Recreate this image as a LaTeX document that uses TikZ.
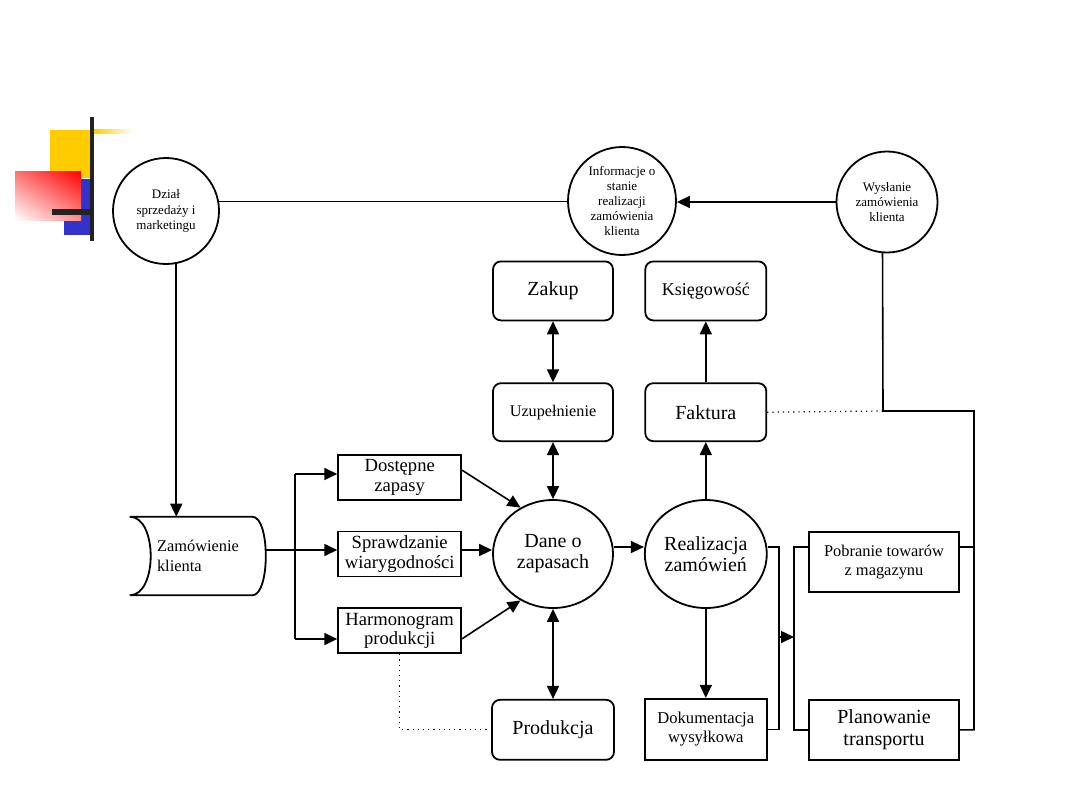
\documentclass[tikz,border=0pt]{standalone}
\usepackage{fontspec}
\setmainfont{Liberation Serif}
\usetikzlibrary{arrows.meta,positioning,shapes.geometric,shadings}
\definecolor{decoyellow}{HTML}{FFCC00}
\definecolor{decoblue}{HTML}{3333CC}
\definecolor{decobar}{HTML}{222222}

\begin{document}
\begin{tikzpicture}[
    x=0.5pt, y=-0.5pt,
    line width=0.8pt,
    box/.style={rectangle, draw, line width=0.9pt, align=center, inner sep=1pt},
    roundbox/.style={box, rounded corners=4pt},
    circ/.style={circle, draw, line width=0.9pt, minimum size=#1, align=center, inner sep=0pt,
        font=\fontsize{6.5}{7.6}\selectfont},
    oval/.style={ellipse, draw, line width=0.9pt, align=center, inner sep=0pt,
        font=\fontsize{10}{10.5}\selectfont},
    arr/.style={-{Triangle[length=6.5pt,width=6pt]}},
    darr/.style={{Triangle[length=6.5pt,width=6pt]}-{Triangle[length=6.5pt,width=6pt]}},
    dots/.style={dotted, line width=0.6pt}
]
    \useasboundingbox (0,0) rectangle (1080,810);

    % slide decoration
    \fill[decoyellow] (50,130) rectangle (90,178);
    \fill[decoblue] (64,179) rectangle (90,235);
    \shade[lower left=white, upper right=red, upper left=red!55, lower right=red!45] (15,171) rectangle (81,220);
    \shade[left color=decoyellow, right color=white] (94,129) rectangle (133,133);
    \fill[decobar] (90,117) rectangle (94,241);
    \fill[decobar] (52,209) rectangle (94,215);

    % top row
    \node[circ=53pt] (dzial) at (166,211) {Dział\\sprzedaży i\\marketingu};
    \node[circ=54pt] (info) at (622,201) {Informacje o\\stanie\\realizacji\\zamówienia\\klienta};
    \node[circ=50.5pt] (wysl) at (887,202) {Wysłanie\\zamówienia\\klienta};

    % centre
    \node[oval, minimum width=60pt, minimum height=54pt] (dane) at (553,554) {Dane o\\zapasach};
    \node[oval, minimum width=61pt, minimum height=54pt, right=15pt of dane] (real) {Realizacja\\zamówień};

    \node[roundbox, minimum width=60pt, minimum height=29pt, above=28.5pt of dane,
        font=\fontsize{8.1}{9}\selectfont] (uzu) {Uzupełnienie};
    \node[roundbox, minimum width=60pt, minimum height=29.5pt, above=30.5pt of uzu,
        font=\fontsize{10}{11}\selectfont] (zakup) {Zakup};
    \node[roundbox, minimum width=60.5pt, minimum height=29pt, above=28.5pt of real,
        font=\fontsize{10}{11}\selectfont] (fak) {Faktura};
    \node[roundbox, minimum width=60.5pt, minimum height=29.5pt, above=30.5pt of fak,
        font=\fontsize{9}{10}\selectfont] (ksieg) {Księgowość};

    \node[roundbox, minimum width=61pt, minimum height=30pt, below=45pt of dane,
        font=\fontsize{10}{11}\selectfont] (prod) {Produkcja};
    \node[box, minimum width=61pt, minimum height=30.5pt, below=44.5pt of real,
        font=\fontsize{8.3}{9.5}\selectfont] (dok) {Dokumentacja\\wysyłkowa};

    % left column
    \node[box, minimum width=61.5pt, minimum height=22.5pt, left=15pt of dane,
        font=\fontsize{9.3}{9.8}\selectfont] (spr) {Sprawdzanie\\wiarygodności};
    \node[box, minimum width=61.5pt, minimum height=22.5pt, above=15pt of spr,
        font=\fontsize{9.3}{9.8}\selectfont] (dost) {Dostępne\\zapasy};
    \node[box, minimum width=61.5pt, minimum height=22.5pt, below=15pt of spr,
        font=\fontsize{9.3}{9.8}\selectfont] (harm) {Harmonogram\\produkcji};

    \node[minimum width=67.5pt, minimum height=38.5pt, align=left,
        font=\fontsize{8.2}{10}\selectfont] (zam) at (198,556) {Zamówienie\\klienta};
    \draw[line width=0.9pt] (zam.north west) -- ([xshift=-7pt]zam.north east)
        .. controls ([xshift=2pt]zam.north east) and ([xshift=2pt]zam.south east) .. ([xshift=-7pt]zam.south east)
        -- (zam.south west)
        .. controls ([xshift=14pt]zam.south west) and ([xshift=14pt]zam.north west) .. cycle;

    % right column
    \node[box, minimum width=75pt, minimum height=30pt,
        font=\fontsize{8.2}{9.5}\selectfont] (pob) at (884,562) {Pobranie towarów\\z magazynu};
    \node[box, minimum width=75pt, minimum height=30pt, below=53pt of pob,
        font=\fontsize{10}{11}\selectfont] (plan) {Planowanie\\transportu};

    % junctions
    \coordinate (jz) at (295,550);
    \coordinate (jtop) at (295,474);
    \coordinate (jbot) at (295,639);
    \coordinate (jr) at (779,547);
    \coordinate (ja) at (779,637);
    \coordinate (jb) at (794,547);
    \coordinate (c1) at (883,411);
    \coordinate (c2) at (974,411);

    % top connections
    \draw (dzial.10) -- (dzial.10 -| info.west);
    \draw[arr] (wysl.west) -- (wysl.west -| info.east);
    \draw[arr] (dzial.-79) -- (dzial.-79 |- zam.north);

    % order branches
    \draw (zam.east |- jz) -- (jz);
    \draw (jtop) -- (jbot);
    \draw[arr] (jtop) -- (dost.west |- jtop);
    \draw[arr] (jz) -- (spr.west |- jz);
    \draw[arr] (jbot) -- (harm.west |- jbot);
    \draw[arr] ([yshift=3.5pt]dost.east) -- (dane.125);
    \draw[arr] (spr.east |- jz) -- (dane.west |- jz);
    \draw[arr] ([yshift=-4pt]harm.east) -- (dane.235);
    \draw[dots] (harm.south) |- (prod.west);

    % stock data
    \draw[darr] (zakup.south) -- (uzu.north);
    \draw[darr] (uzu.south) -- (uzu.south |- dane.north);
    \draw[darr] (dane.south) -- (dane.south |- prod.north);
    \draw[arr] (dane.east |- jr) -- (real.west |- jr);

    % order handling
    \draw[arr] (real.north) -- (real.north |- fak.south);
    \draw[arr] (fak.north) -- (ksieg.south);
    \draw[arr] (real.south) -- (real.south |- dok.north);
    \draw (real.east |- jr) -- (jr) -- (jr |- dok.east) -- (dok.east);
    \draw[arr] (ja) -- (jb |- ja);
    \draw (pob.west |- jb) -- (jb) -- (jb |- plan.west) -- (plan.west);

    % dispatch
    \draw (wysl.-95) -- (c1) -- (c2) -- (c2 |- plan.east) -- (plan.east);
    \draw (pob.east |- jb) -- (c2 |- jb);
    \draw[dots] (fak.east) -- (c1);
\end{tikzpicture}
\end{document}
